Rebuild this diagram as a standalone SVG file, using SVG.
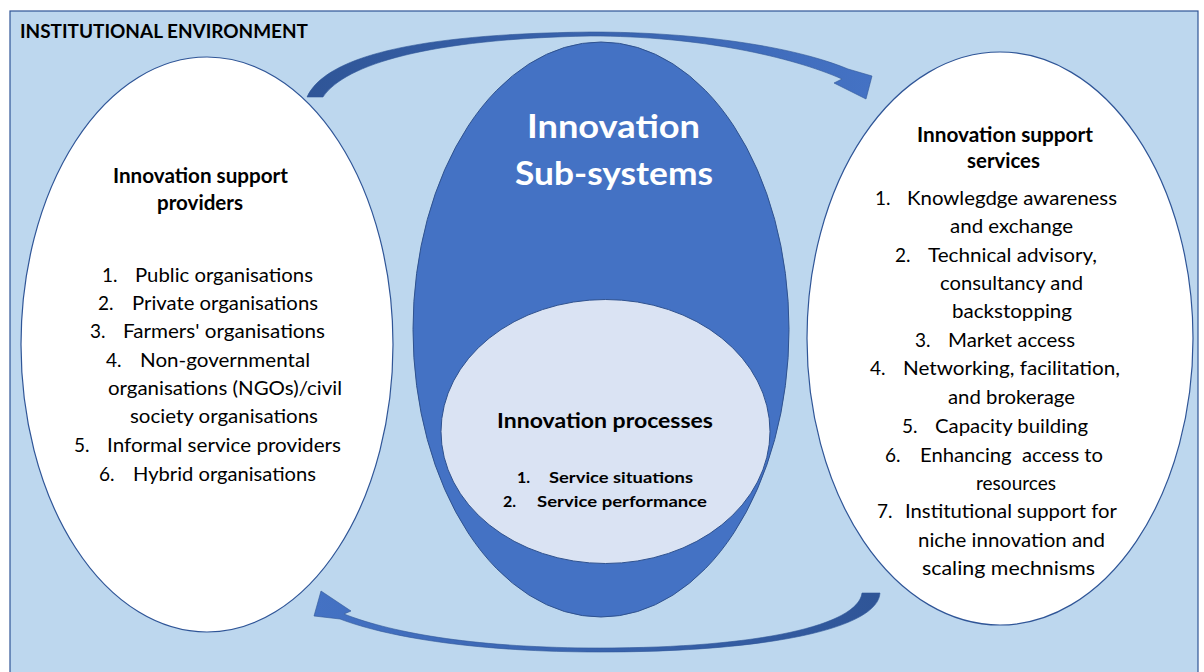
<svg xmlns="http://www.w3.org/2000/svg" width="1204" height="672" viewBox="0 0 1204 672">
<style>
  .t { font-family: Lato, "Open Sans", "Liberation Sans", sans-serif; fill: #000; }
  .b { font-weight: bold; }
  .h { font-size: 20px; font-weight: bold; }
  .l { font-size: 19px; }
  .big { font-size: 33px; font-weight: bold; fill: #fff; }
  .s { font-size: 16px; font-weight: bold; }
  .white { fill: #fff; stroke: #2F5597; stroke-width: 1.2; }
</style>
<defs>
  <linearGradient id="gTop" gradientUnits="userSpaceOnUse" x1="305" y1="0" x2="870" y2="0">
    <stop offset="0" stop-color="#2F5597"/>
    <stop offset="1" stop-color="#4472C4"/>
  </linearGradient>
  <linearGradient id="gBot" gradientUnits="userSpaceOnUse" x1="880" y1="0" x2="315" y2="0">
    <stop offset="0" stop-color="#2F5597"/>
    <stop offset="1" stop-color="#4472C4"/>
  </linearGradient>
</defs>

<g id="environment">
  <rect x="10" y="11" width="1188" height="680" fill="#BDD7EE" stroke="#2F5597" stroke-width="1.2"/>
  <text class="t b" x="20" y="38" font-size="18" textLength="288" lengthAdjust="spacingAndGlyphs">INSTITUTIONAL ENVIRONMENT</text>
</g>

<g id="connectors">
  <path fill="url(#gTop)" stroke="#2F5597" stroke-width="0.6" d="M307,97 C325,58 410,34 590,32 C700,32 795,47 848,69 L872,76 L866,99 L834,83 L842,79 C792,57 700,36 590,36 C430,39 345,64 323,97 Z"/>
  <path fill="url(#gBot)" stroke="#2F5597" stroke-width="0.6" d="M880,593 C878,628 770,652 600,652 C480,652 390,638 340,619 L314,616 L321,591 L351,611 L344,614 C395,634 480,648 600,648 C760,648 858,625 862,593 Z"/>
</g>

<g id="providers">
  <ellipse class="white" cx="207" cy="344.5" rx="186" ry="287.5"/>
  <text class="t h" x="113" y="183" textLength="175" lengthAdjust="spacingAndGlyphs">Innovation support</text>
  <text class="t h" x="157" y="210" textLength="86" lengthAdjust="spacingAndGlyphs">providers</text>
  <text class="t l" x="102" y="282">1.</text><text class="t l" x="135" y="282" textLength="178" lengthAdjust="spacingAndGlyphs">Public organisations</text>
  <text class="t l" x="98" y="310">2.</text><text class="t l" x="132" y="310" textLength="186" lengthAdjust="spacingAndGlyphs">Private organisations</text>
  <text class="t l" x="90" y="338">3.</text><text class="t l" x="123" y="338" textLength="202" lengthAdjust="spacingAndGlyphs">Farmers' organisations</text>
  <text class="t l" x="106" y="367">4.</text><text class="t l" x="140" y="367" textLength="170" lengthAdjust="spacingAndGlyphs">Non-governmental</text>
  <text class="t l" x="108" y="395" textLength="234" lengthAdjust="spacingAndGlyphs">organisations (NGOs)/civil</text>
  <text class="t l" x="130" y="423" textLength="188" lengthAdjust="spacingAndGlyphs">society organisations</text>
  <text class="t l" x="74" y="452">5.</text><text class="t l" x="107" y="452" textLength="234" lengthAdjust="spacingAndGlyphs">Informal service providers</text>
  <text class="t l" x="99" y="481">6.</text><text class="t l" x="133" y="481" textLength="183" lengthAdjust="spacingAndGlyphs">Hybrid organisations</text>
</g>

<g id="subsystems">
  <ellipse cx="601" cy="329.5" rx="188" ry="287.5" fill="#4472C4" stroke="#2F528F" stroke-width="1"/>
  <text class="t big" x="527" y="138" textLength="173" lengthAdjust="spacingAndGlyphs">Innovation</text>
  <text class="t big" x="515" y="185" textLength="198" lengthAdjust="spacingAndGlyphs">Sub-systems</text>
</g>

<g id="processes">
  <ellipse cx="605.5" cy="431.5" rx="164.5" ry="132" fill="#DAE3F3" stroke="#2F528F" stroke-width="1"/>
  <text class="t b" x="497" y="428" font-size="20" textLength="216" lengthAdjust="spacingAndGlyphs">Innovation processes</text>
  <text class="t s" x="517" y="483">1.</text><text class="t s" x="549" y="483" textLength="144" lengthAdjust="spacingAndGlyphs">Service situations</text>
  <text class="t s" x="503" y="507">2.</text><text class="t s" x="537" y="507" textLength="170" lengthAdjust="spacingAndGlyphs">Service performance</text>
</g>

<g id="services">
  <ellipse class="white" cx="1000" cy="338.5" rx="193" ry="286.5"/>
  <text class="t h" x="917" y="142" textLength="176" lengthAdjust="spacingAndGlyphs">Innovation support</text>
  <text class="t h" x="967" y="168" textLength="73" lengthAdjust="spacingAndGlyphs">services</text>
  <text class="t l" x="875" y="205">1.</text><text class="t l" x="907" y="205" textLength="210" lengthAdjust="spacingAndGlyphs">Knowlegdge awareness</text>
  <text class="t l" x="950" y="233" textLength="123" lengthAdjust="spacingAndGlyphs">and exchange</text>
  <text class="t l" x="895" y="262">2.</text><text class="t l" x="928" y="262" textLength="169" lengthAdjust="spacingAndGlyphs">Technical advisory,</text>
  <text class="t l" x="940" y="290" textLength="143" lengthAdjust="spacingAndGlyphs">consultancy and</text>
  <text class="t l" x="952" y="318" textLength="120" lengthAdjust="spacingAndGlyphs">backstopping</text>
  <text class="t l" x="915" y="347">3.</text><text class="t l" x="948" y="347" textLength="127" lengthAdjust="spacingAndGlyphs">Market access</text>
  <text class="t l" x="870" y="375">4.</text><text class="t l" x="903" y="375" textLength="217" lengthAdjust="spacingAndGlyphs">Networking, facilitation,</text>
  <text class="t l" x="948" y="404" textLength="127" lengthAdjust="spacingAndGlyphs">and brokerage</text>
  <text class="t l" x="902" y="433">5.</text><text class="t l" x="935" y="433" textLength="153" lengthAdjust="spacingAndGlyphs">Capacity building</text>
  <text class="t l" x="885" y="462">6.</text><text class="t l" x="920" y="462" textLength="183" lengthAdjust="spacingAndGlyphs">Enhancing&#160; access to</text>
  <text class="t l" x="976" y="490" textLength="80" lengthAdjust="spacingAndGlyphs">resources</text>
  <text class="t l" x="877" y="518">7.</text><text class="t l" x="905" y="518" textLength="212" lengthAdjust="spacingAndGlyphs">Institutional support for</text>
  <text class="t l" x="918" y="547" textLength="187" lengthAdjust="spacingAndGlyphs">niche innovation and</text>
  <text class="t l" x="922" y="575" textLength="173" lengthAdjust="spacingAndGlyphs">scaling mechnisms</text>
</g>
</svg>
